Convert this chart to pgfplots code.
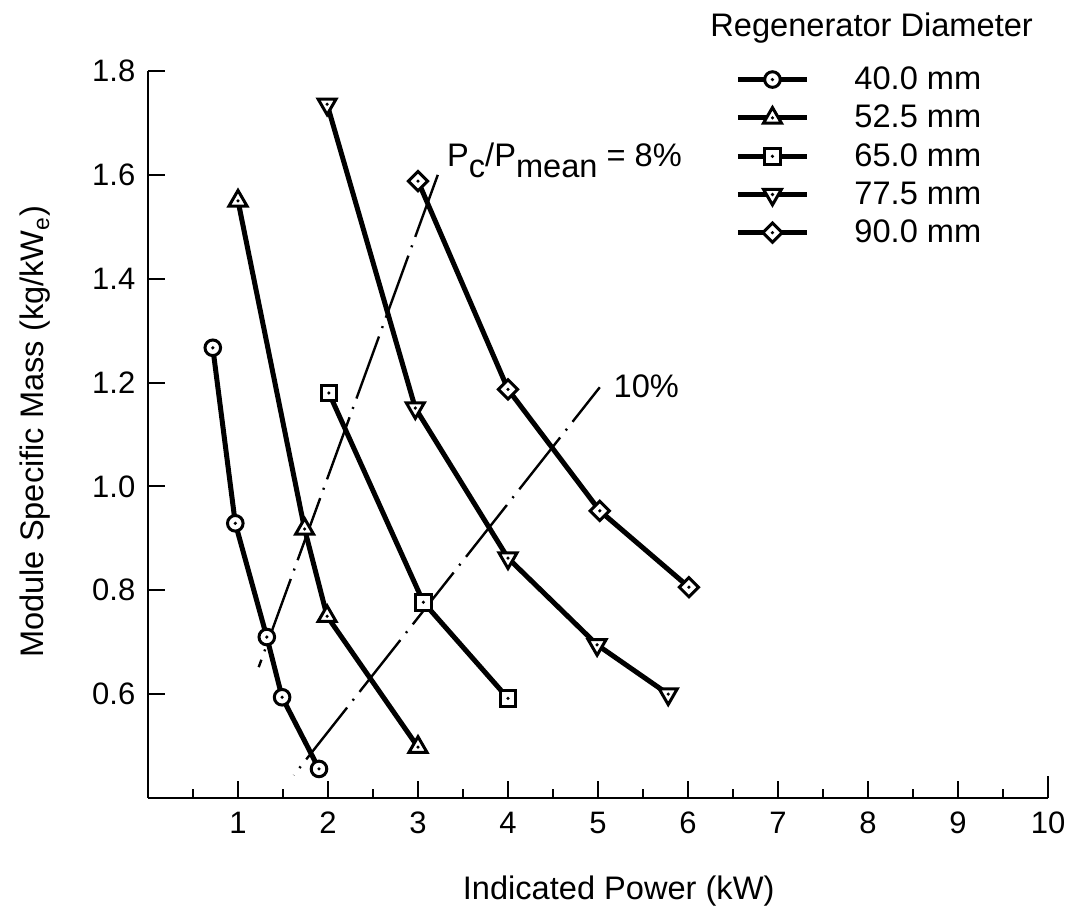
\documentclass[border=0pt]{standalone}
\usepackage{fontspec}
\setmainfont{Liberation Sans}
\usepackage{pgfplots}
\pgfplotsset{compat=1.18}

% open marks with a small dot in the centre
\pgfdeclareplotmark{dcirc}{%
  \pgfpathcircle{\pgfpointorigin}{\pgfplotmarksize}%
  \pgfusepathqfillstroke
  \begin{pgfscope}\pgfsetfillcolor{black}%
  \pgfpathcircle{\pgfpointorigin}{0.9pt}\pgfusepathqfill\end{pgfscope}}
\pgfdeclareplotmark{dtri}{%
  \pgfpathmoveto{\pgfqpointpolar{90}{\pgfplotmarksize}}%
  \pgfpathlineto{\pgfqpointpolar{210}{\pgfplotmarksize}}%
  \pgfpathlineto{\pgfqpointpolar{330}{\pgfplotmarksize}}%
  \pgfpathclose\pgfusepathqfillstroke
  \begin{pgfscope}\pgfsetfillcolor{black}%
  \pgfpathcircle{\pgfpointorigin}{0.9pt}\pgfusepathqfill\end{pgfscope}}
\pgfdeclareplotmark{dinvtri}{%
  \pgfpathmoveto{\pgfqpointpolar{270}{\pgfplotmarksize}}%
  \pgfpathlineto{\pgfqpointpolar{30}{\pgfplotmarksize}}%
  \pgfpathlineto{\pgfqpointpolar{150}{\pgfplotmarksize}}%
  \pgfpathclose\pgfusepathqfillstroke
  \begin{pgfscope}\pgfsetfillcolor{black}%
  \pgfpathcircle{\pgfpointorigin}{0.9pt}\pgfusepathqfill\end{pgfscope}}
\pgfdeclareplotmark{dsquare}{%
  \pgfpathrectanglecorners{\pgfqpoint{-\pgfplotmarksize}{-\pgfplotmarksize}}{\pgfqpoint{\pgfplotmarksize}{\pgfplotmarksize}}%
  \pgfusepathqfillstroke
  \begin{pgfscope}\pgfsetfillcolor{black}%
  \pgfpathcircle{\pgfpointorigin}{0.9pt}\pgfusepathqfill\end{pgfscope}}
\pgfdeclareplotmark{ddiamond}{%
  \pgfpathmoveto{\pgfqpoint{0pt}{\pgfplotmarksize}}%
  \pgfpathlineto{\pgfqpoint{\pgfplotmarksize}{0pt}}%
  \pgfpathlineto{\pgfqpoint{0pt}{-\pgfplotmarksize}}%
  \pgfpathlineto{\pgfqpoint{-\pgfplotmarksize}{0pt}}%
  \pgfpathclose\pgfusepathqfillstroke
  \begin{pgfscope}\pgfsetfillcolor{black}%
  \pgfpathcircle{\pgfpointorigin}{0.9pt}\pgfusepathqfill\end{pgfscope}}

\newcommand{\txt}{\fontsize{16.3}{19}\selectfont}

\begin{document}
\begin{tikzpicture}
\useasboundingbox (-74pt,-54.5pt) rectangle (461.5pt,399pt);
\begin{axis}[
  scale only axis, width=450pt, height=363.5pt,
  xmin=0, xmax=10, ymin=0.4, ymax=1.8,
  clip=false,
  axis x line*=bottom, axis y line*=left,
  axis line style={line width=1.3pt, black},
  tick align=inside,
  xtick={1,2,3,4,5,6,7,8,9,10},
  minor xtick={0.5,1.5,2.5,3.5,4.5,5.5,6.5,7.5,8.5,9.5},
  ytick={0.6,0.8,1.0,1.2,1.4,1.6,1.8},
  major tick length=8.5pt, minor tick length=4.5pt,
  every tick/.style={line width=1pt, black},
  extra x ticks={10}, extra x tick labels={},
  extra x tick style={major tick length=11pt},
  /pgf/number format/assume math mode=true,
  tick label style={font=\fontsize{15.5}{18}\selectfont},
  yticklabel style={/pgf/number format/.cd, fixed, fixed zerofill, precision=1, /tikz/.cd, xshift=-2.8pt},
  xticklabel style={yshift=-3.5pt},
  xlabel={Indicated Power (kW)},
  ylabel={Module Specific Mass (kg/kW\textsubscript{e})},
  label style={font=\txt},
  xlabel style={at={(axis description cs:0.342,-0.140)}, anchor=base west},
  ylabel style={at={(axis description cs:-0.1156,0.183)}, anchor=base west},
  legend style={draw=none, fill=none, font=\txt, inner sep=0pt,
    at={(axis description cs:0.6523,1.0065)}, anchor=north west,
    nodes={inner sep=0pt}, row sep=6.3pt,
    /tikz/every odd column/.append style={column sep=22.5pt}},
  legend cell align=left,
  legend image code/.code={%
    \draw[mark repeat=2, mark phase=2, #1] plot coordinates {(0pt,0pt) (17.25pt,0pt) (34.5pt,0pt)};},
  every axis plot/.append style={line width=2.5pt, black,
    mark options={line width=1.5pt, fill=white, solid}},
]

% constant compression-loss lines
\addplot[forget plot, line width=1.2pt, mark=none,
  dash pattern=on 33pt off 4.5pt on 1pt off 4.5pt]
  coordinates {(3.22,1.600) (1.23,0.652)};
\addplot[forget plot, line width=1.2pt, mark=none,
  dash pattern=on 33pt off 4.5pt on 1pt off 4.5pt, dash phase=11pt]
  coordinates {(5.02,1.191) (1.62,0.444)};

% regenerator diameter series
\addplot[mark=dcirc, mark size=3.9pt] coordinates {
  (0.72,1.267) (0.97,0.929) (1.32,0.710) (1.49,0.594) (1.90,0.456)};
\addlegendentry{40.0 mm}
\addplot[mark=dtri, mark size=5.2pt] coordinates {
  (1.00,1.550) (1.74,0.918) (1.99,0.750) (3.00,0.498)};
\addlegendentry{52.5 mm}
\addplot[mark=dsquare, mark size=3.9pt] coordinates {
  (2.01,1.180) (3.06,0.777) (4.00,0.592)};
\addlegendentry{65.0 mm}
\addplot[mark=dinvtri, mark size=5.2pt] coordinates {
  (1.99,1.736) (2.97,1.151) (4.00,0.862) (4.99,0.695) (5.78,0.600)};
\addlegendentry{77.5 mm}
\addplot[mark=ddiamond, mark size=4.8pt] coordinates {
  (3.00,1.588) (4.00,1.187) (5.02,0.953) (6.01,0.806)};
\addlegendentry{90.0 mm}

\node[anchor=base west, font=\txt, inner sep=0pt] at (axis cs:3.32,1.617)
  {P\raisebox{-0.35em}{c}/P\raisebox{-0.35em}{mean} = 8\%};
\node[anchor=base west, font=\txt, inner sep=0pt] at (axis cs:5.17,1.172) {10\%};
\node[anchor=base west, font=\txt, inner sep=0pt] at (axis description cs:0.6244,1.0468)
  {Regenerator Diameter};
\end{axis}
\end{tikzpicture}
\end{document}
